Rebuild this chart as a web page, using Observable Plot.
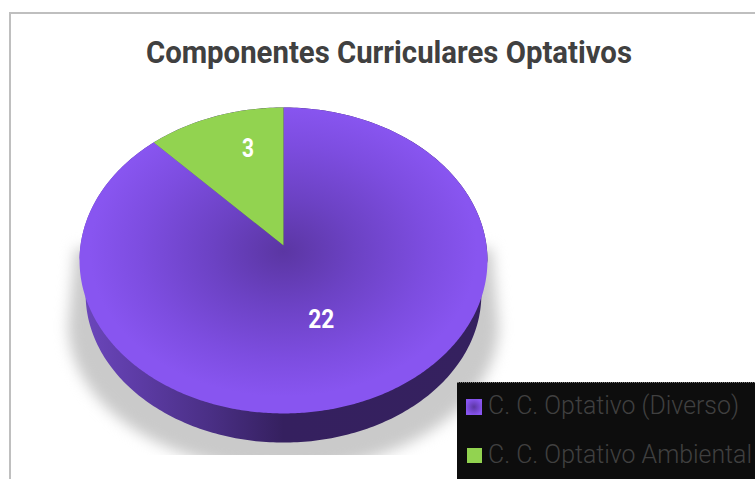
<!DOCTYPE html>
<html><head><meta charset="utf-8">
<script src="https://cdn.jsdelivr.net/npm/d3@7"></script>
<script src="https://cdn.jsdelivr.net/npm/@observablehq/plot@0.6"></script>
<style>
html,body{margin:0;padding:0;background:#fff;width:755px;height:479px;overflow:hidden;position:relative}
#border{position:absolute;left:9px;top:12px;right:0;bottom:0;border-left:2px solid #bfbfbf;border-top:2px solid #bfbfbf}
#chart{position:absolute;left:0;top:0}
#chart svg{background:transparent;display:block}
.blur{filter:blur(7px)}
#legend{position:absolute;left:457px;top:382px;width:298px;height:97px;background:#0d0d0d;border-top:1px dotted #777;box-sizing:border-box}
#legend svg{position:absolute;left:0;top:0;overflow:visible}
#legend i{position:absolute;display:block}
</style></head><body>
<div id="border"></div><div id="chart"></div><div id="legend"></div>
<script>
const categories = ["C. C. Optativo (Diverso)", "C. C. Optativo Ambiental"];
const values = [22, 3];
const title = "Componentes Curriculares Optativos";

// layout, in units of the disc (x and y run -1..1 across its top face)
const tilt = 0.098, labelX = [0.185, -0.174], labelY = [0.386, -0.732];
const depth = 0.97, lowerShift = 0.22;
const bottomClip = 1.2745;

const project = (a, r = 1) => {
  const u = r * Math.sin(a), v = -r * Math.cos(a), d = 1 - tilt * v;
  return {x: 0.995 * u / d, y: -tilt + 0.99 * v / d};
};
const arcs = d3.pie().sort(null)(values);
const slices = arcs.flatMap((s, i) => {
  const n = Math.max(2, Math.ceil((s.endAngle - s.startAngle) / 0.01));
  const pts = d3.range(n + 1).map(k => project(s.startAngle + (s.endAngle - s.startAngle) * k / n));
  return [project(0, 0), ...pts].map(p => ({...p, slice: categories[i]}));
});
const ang = d3.range(0, 361).map(d => d * Math.PI / 180);
// side wall: the upper half of the top face joined to the lower half of the bottom face
const side = [
  ...ang.filter(a => Math.cos(a) >= 0).map(a => ({x: Math.sin(a), y: -Math.cos(a)})),
  ...ang.filter(a => Math.cos(a) < 0).map(a => ({x: depth * Math.sin(a), y: lowerShift + depth * -Math.cos(a)}))
].sort((a, b) => Math.atan2(a.x, -(a.y - lowerShift / 2)) - Math.atan2(b.x, -(b.y - lowerShift / 2)));
// soft shadow under the disc
const shadow = [
  ...ang.filter(a => a >= Math.PI / 2 && a <= 3 * Math.PI / 2).map(a => ({x: 1.055 * Math.sin(a), y: 0.42 + 0.95 * -Math.cos(a)})),
  {x: -1.02, y: -0.08}, {x: 1.02, y: -0.08}
];
const mask = [{x1: -1.2, x2: 1.2, y1: bottomClip, y2: 1.5}];

function defs() {
  const d = d3.create("svg:defs");
  const stops = (g, s) => s.forEach(([o, c]) => g.append("stop").attr("offset", o).attr("stop-color", c));
  stops(d.append("radialGradient").attr("id", "top").attr("cx", .5).attr("cy", .47).attr("r", .5),
    [[0, "#5b36a3"], [.35, "#6c42c4"], [.7, "#7d4de0"], [.95, "#8855f0"], [1, "#8855f0"]]);
  stops(d.append("linearGradient").attr("id", "wall"),
    [[0, "#6c47bd"], [.15, "#5c3ba4"], [.32, "#4a2f85"], [.5, "#35205f"], [1, "#35215f"]]);
  return d.node();
}

const plot = Plot.plot({
  width: 755, height: 479, margin: 0,
  x: {domain: [-1, 1], range: [79, 487], axis: null},
  y: {domain: [-1, 1], range: [107, 413], axis: null},
  style: {background: "transparent"},
  marks: [
    defs,
    Plot.line(shadow, {x: "x", y: "y", fill: "#cacaca", stroke: "none", className: "blur"}),
    Plot.rect(mask, {x1: "x1", x2: "x2", y1: "y1", y2: "y2", fill: "white"}),
    Plot.line(side, {x: "x", y: "y", fill: "url(#wall)", stroke: "none"}),
    Plot.line(slices.filter(d => d.slice === categories[0]), {x: "x", y: "y", fill: "url(#top)", stroke: "none"}),
    Plot.line(slices.filter(d => d.slice === categories[1]), {x: "x", y: "y", fill: "#92d350", stroke: "none"}),
    Plot.text(values, {x: (d, i) => labelX[i], y: (d, i) => labelY[i], text: d => String(d), fill: "white",
      fontSize: 25, fontWeight: 700, fontFamily: "Roboto", className: "lab"}),
    Plot.text([title], {x: [0.517], y: [-1.36], text: d => d, fill: "#404040", className: "title",
      fontSize: 32, fontWeight: 700, fontFamily: "Roboto"})
  ]
});
document.getElementById("chart").append(plot);
// the reference's faces are condensed: fit the real text to the measured widths
const squeeze = (t, w) => { t.setAttribute("textLength", w); t.setAttribute("lengthAdjust", "spacingAndGlyphs"); };
squeeze(plot.querySelector(".title text"), 486);
plot.querySelectorAll(".lab text").forEach((t, i) => squeeze(t, [26, 12][i]));

const fills = ["radial-gradient(circle,#5b36a3 0,#8855f0 75%)", "#92d350"];
const widths = [251, 264];
const lg = document.getElementById("legend");
categories.forEach((c, i) => {
  const s = document.createElement("i");
  s.style.cssText = `left:${i ? 10 : 9}px;top:${i ? 65 : 16}px;width:${i ? 15 : 16}px;height:${i ? 15 : 16}px;background:${fills[i]}`;
  const svg = d3.create("svg").attr("width", 298).attr("height", 97);
  const t = svg.append("text").attr("x", 31).attr("y", i ? 80 : 31).attr("fill", "#404040")
    .attr("font-family", "Roboto").attr("font-weight", 300).attr("font-size", 25).text(c);
  squeeze(t.node(), widths[i]);
  lg.append(s, svg.node());
});
</script></body></html>
